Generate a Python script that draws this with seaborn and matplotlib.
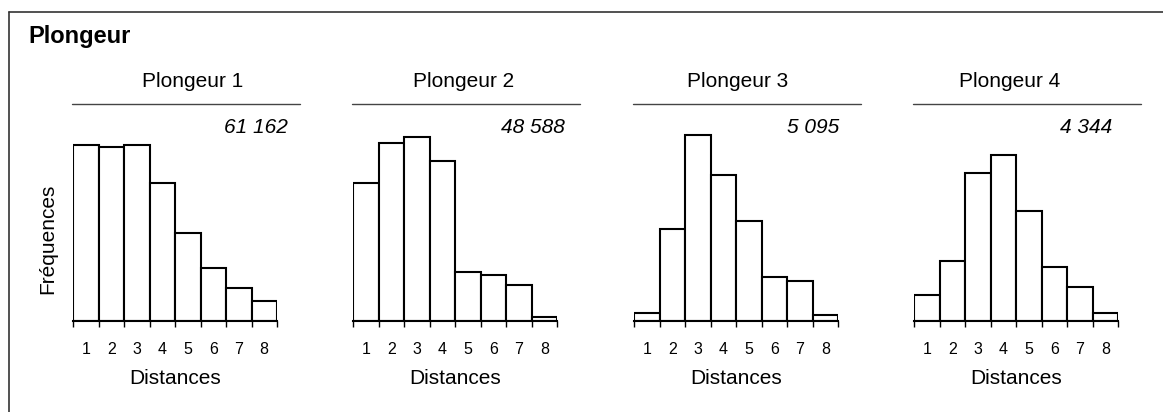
import matplotlib
matplotlib.use("Agg")
import matplotlib.pyplot as plt
from matplotlib.lines import Line2D
import seaborn as sns
import pandas as pd

# ---- data (arbitrary frequency units) ----
distances = ["1", "2", "3", "4", "5", "6", "7", "8"]
plongeur_1 = [175.7, 174.0, 175.7, 138.0, 88.0, 52.4, 32.4, 20.0]
plongeur_2 = [138.0, 178.0, 183.7, 160.0, 48.4, 46.0, 36.0, 4.0]
plongeur_3 = [7.4, 91.7, 186.0, 146.0, 100.0, 44.0, 40.0, 5.7]
plongeur_4 = [25.7, 60.0, 148.0, 166.0, 110.0, 54.0, 33.7, 8.0]
panel_titles = ["Plongeur 1", "Plongeur 2", "Plongeur 3", "Plongeur 4"]
panel_counts = ["61 162", "48 588", "5 095", "4 344"]
series = [plongeur_1, plongeur_2, plongeur_3, plongeur_4]

# ---- style / layout (pixels) ----
W, H = 1163, 412
DPI = 100
panel_left = [73, 353.3, 634, 914]
panel_width = 204
baseline_y = 320.7
axes_top_y = 130.0
title_cx = [192.7, 463.3, 737.5, 1010]
count_rx = [288.3, 565, 839.3, 1112.3]

sns.set_theme(style="white")
plt.rcParams["font.family"] = ["Liberation Sans", "DejaVu Sans"]

fig = plt.figure(figsize=(W / DPI, H / DPI), dpi=DPI)
fig.patch.set_facecolor("white")

def fx(px):
    return px / W

def fy(py):
    return 1 - py / H

axes_h = baseline_y - axes_top_y
for i, vals in enumerate(series):
    ax = fig.add_axes([fx(panel_left[i]), fy(baseline_y), panel_width / W, axes_h / H])
    df = pd.DataFrame({"Distance": distances, "Freq": vals})
    sns.barplot(data=df, x="Distance", y="Freq", width=1.0, color="white",
                saturation=1, edgecolor="black", linewidth=1.5, ax=ax)
    ax.set_xlim(-0.5, 7.5)
    ax.set_ylim(0, axes_h)
    ax.set_facecolor("none")
    for s in ["top", "right", "left"]:
        ax.spines[s].set_visible(False)
    ax.spines["bottom"].set_color("black")
    ax.spines["bottom"].set_linewidth(1.5)
    ax.set_yticks([])
    ax.set_xticks(range(8))
    ax.set_xticklabels(distances)
    ax.set_xticks([k - 0.5 for k in range(9)], minor=True)
    ax.tick_params(axis="x", which="major", length=0, pad=15, labelsize=11.5,
                   labelcolor="black")
    ax.tick_params(axis="x", which="minor", length=4.5, width=1, color="black",
                   direction="out", bottom=True)
    ax.set_xlabel("Distances", fontsize=15, labelpad=9, color="black")
    if i == 0:
        ax.set_ylabel("Fréquences", fontsize=15, color="black")
        ax.yaxis.set_label_coords((57.3 - panel_left[0]) / panel_width,
                                  (baseline_y - 238.8) / axes_h)
    else:
        ax.set_ylabel("")
    # panel title + rule
    fig.text(fx(title_cx[i]), fy(81.7), panel_titles[i], ha="center", va="center",
             fontsize=15, color="black")
    fig.add_artist(Line2D([fx(panel_left[i] - 1), fx(panel_left[i] + 227)],
                          [fy(104.3), fy(104.3)], transform=fig.transFigure,
                          color="#444444", linewidth=1.0))
    fig.text(fx(count_rx[i]), fy(127.7), panel_counts[i], ha="right", va="center",
             fontsize=15, style="italic", color="black")

# overall title and frame
fig.text(fx(28.3), fy(36), "Plongeur", ha="left", va="center", fontsize=17,
         fontweight="bold", color="black")
fig.add_artist(Line2D([fx(9), 1.0], [fy(11.7), fy(11.7)], transform=fig.transFigure,
                      color="#333333", linewidth=1.2))
fig.add_artist(Line2D([fx(9), fx(9)], [fy(11.7), 0.0], transform=fig.transFigure,
                      color="#333333", linewidth=1.2))

fig.savefig("out.png", dpi=DPI, facecolor="white")
